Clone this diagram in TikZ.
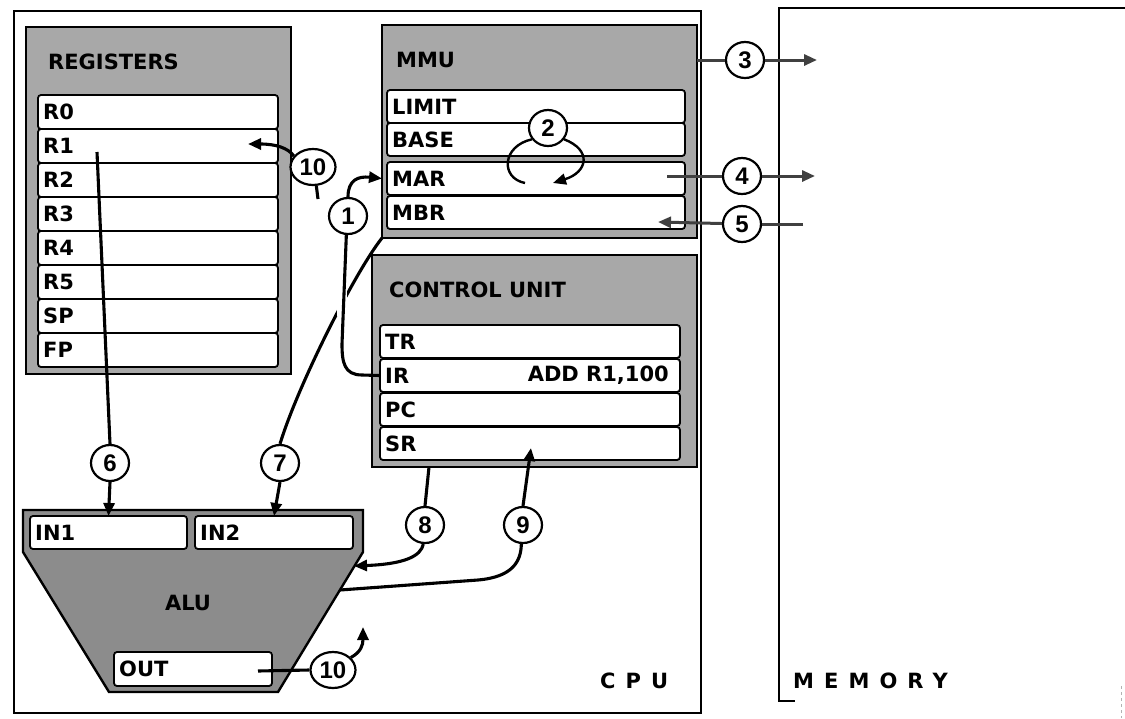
\documentclass[tikz,border=0pt]{standalone}
\usepackage{fontspec}
\setmainfont{DejaVu Sans}
\newfontfamily\numfam{Liberation Sans}
\newfontfamily\spacedfam{DejaVu Sans}[LetterSpace=48]
\usetikzlibrary{arrows.meta,shapes.geometric,calc}
\definecolor{panelgray}{gray}{0.66}
\definecolor{alugray}{gray}{0.55}
\newcommand{\myrowf}{\bfseries\fontsize{21}{24}\selectfont}
\newcommand{\myheadf}{\bfseries\fontsize{21}{24}\selectfont}
\newcommand{\mynumf}{\numfam\bfseries\fontsize{24}{26}\selectfont}
\newcommand{\mybigf}{\spacedfam\bfseries\fontsize{21}{24}\selectfont}
\begin{document}
\begin{tikzpicture}[x=1pt,y=-1pt,
  panel/.style={draw=black,line width=2.4pt,fill=panelgray,inner sep=0pt,outer sep=0pt,anchor=north west},
  cell/.style={draw=black,line width=1.8pt,fill=white,rounded corners=3pt,inner sep=0pt,outer sep=0pt,anchor=north west},
  lbl/.style={anchor=west,inner sep=0pt,font=\myrowf},
  head/.style={anchor=west,inner sep=0pt,font=\myheadf},
  num/.style={ellipse,draw=black,line width=2.2pt,fill=white,inner sep=0pt,minimum width=38pt,minimum height=36pt,font=\mynumf},
  wnum/.style={num,minimum width=45pt},
  wire/.style={line width=3.1pt,black},
  bus/.style={line width=3pt,black!75},
  tip/.style={-{Triangle[length=13pt,width=11pt]}},
  frame/.style={line width=2.2pt,black}
]
\useasboundingbox (0,0) rectangle (1125,718);
\fill[white] (0,0) rectangle (1125,718);

% outer frames
\draw[frame] (14,11) rectangle (701,713);
\draw[frame] (1125,8) -- (779,8) -- (779,701) -- (795,701);
\draw[gray!60,line width=0.8pt,dash pattern=on 3pt off 3pt] (1121,686) -- (1121,718);
\node[anchor=base west,inner sep=0pt,font=\mybigf] (cpulbl) at (600,688) {CPU};
\node[anchor=base west,inner sep=0pt,font=\mybigf] (memlbl) at (793,688) {MEMORY};

% registers
\node[panel,minimum width=265pt,minimum height=347pt] (regs) at (26,27) {};
\node[head] (regslbl) at (48,62) {REGISTERS};
\foreach \n [count=\i from 0] in {R0,R1,R2,R3,R4,R5,SP,FP} {
  \node[cell,minimum width=240pt,minimum height=34pt] (reg\n) at (38,{95+34*\i}) {};
  \node[lbl] at ([xshift=5pt]reg\n.west) {\n};
}

% MMU
\node[panel,minimum width=315pt,minimum height=213pt] (mmu) at (382,25) {};
\node[head] (mmulbl) at (396,60) {MMU};
\node[cell,minimum width=298pt,minimum height=33pt] (mLIMIT) at (387,90) {};
\node[cell,minimum width=298pt,minimum height=33pt] (mBASE) at (387,123) {};
\node[cell,minimum width=298pt,minimum height=33pt] (mMAR) at (387,162) {};
\node[cell,minimum width=298pt,minimum height=33pt] (mMBR) at (387,196) {};
\foreach \n in {LIMIT,BASE,MAR,MBR} {\node[lbl] at ([xshift=5pt]m\n.west) {\n};}

% control unit
\node[panel,minimum width=325pt,minimum height=212pt] (cu) at (372,255) {};
\node[head] (culbl) at (389,290) {CONTROL UNIT};
\node[cell,minimum width=300pt,minimum height=33pt] (cTR) at (380,325) {};
\node[cell,minimum width=300pt,minimum height=33pt] (cIR) at (380,359) {};
\node[cell,minimum width=300pt,minimum height=33pt] (cPC) at (380,393) {};
\node[cell,minimum width=300pt,minimum height=33pt] (cSR) at (380,427) {};
\foreach \n in {TR,IR,PC,SR} {\node[lbl] at ([xshift=5pt]c\n.west) {\n};}
\node[lbl,anchor=east] (irval) at ([xshift=-11pt]cIR.east) {ADD R1,100};

% ALU
\coordinate (aTL) at (23,510);
\coordinate (aTR) at (363,510);
\coordinate (aMR) at (363,552);
\coordinate (aBR) at (278,692);
\coordinate (aBL) at (109,692);
\coordinate (aML) at (23,552);
\draw[line width=2.4pt,fill=alugray] (aTL) -- (aTR) -- (aMR) -- (aBR) -- (aBL) -- (aML) -- cycle;
\node[cell,minimum width=157pt,minimum height=33pt] (in1) at (30,516) {};
\node[cell,minimum width=158pt,minimum height=33pt] (in2) at (195,516) {};
\node[cell,minimum width=158pt,minimum height=34pt] (out) at (114,652) {};
\node[lbl] at ([xshift=5pt]in1.west) {IN1};
\node[lbl] at ([xshift=5pt]in2.west) {IN2};
\node[lbl] at ([xshift=5pt]out.west) {OUT};
\node[inner sep=0pt,font=\myheadf] (alulbl) at (188,603) {ALU};

% numbered circles
\node[num] (c1) at (348,216) {1};
\node[num] (c2) at (548,128) {2};
\node[num] (c3) at (745,60) {3};
\node[num] (c4) at (742,176) {4};
\node[num] (c5) at (742,224) {5};
\node[num] (c6) at (110,463) {6};
\node[num] (c7) at (280,463) {7};
\node[num] (c8) at (425,525) {8};
\node[num] (c9) at (523,525) {9};
\node[wnum] (c10a) at (313,167) {10};
\node[wnum] (c10b) at (333,670) {10};

% free ends
\coordinate (m3) at (817,60);
\coordinate (mar4) at (667,176);
\coordinate (m4) at (815,176);
\coordinate (m5) at (803,224);
\coordinate (mbr5) at (658,222);
\coordinate (r1tap) at (97,152);
\coordinate (r1in) at (248,144);
\coordinate (stub10) at (318,199);
\coordinate (cu8) at (429,467);
\coordinate (alu8) at (354,566);
\coordinate (alu9) at (340,590);
\coordinate (sr9) at (531,448);
\coordinate (outtap) at (258,671);
\coordinate (up10) at (363,627);

% 2
\draw[wire,line width=2.4pt] (c2.215) .. controls (502,146) and (500,178) .. (525,183);
\draw[wire,line width=2.4pt,tip] (c2.-35) .. controls (592,150) and (588,172) .. (553,183);
% 3, 4, 5
\draw[bus] (mmu.east |- c3) -- (c3);
\draw[bus,tip] (c3) -- (m3);
\draw[bus] (mar4) -- (c4);
\draw[bus,tip] (c4) -- (m4);
\draw[bus] (m5) -- (c5);
\draw[bus,tip] (c5) -- (mbr5);
% 7 (broken where 1 crosses)
\draw[wire] (mmu.south west) .. controls (355,272) and (298,385) .. (c7.north);
\draw[wire,tip] (c7.south) -- (in2.north);
\draw[white,line width=10pt] (342,282) -- (342,316);
% 1
\draw[wire] (cIR.west) -- (362,375) .. controls (344,375) and (342,362) .. (342,344) -- (c1.265);
\draw[wire,tip] (c1.north) .. controls (348,180) and (358,176) .. (mmu.west |- mMAR.west);
% 6
\draw[wire] (r1tap) -- (c6.north);
\draw[wire,tip] (c6.south) -- (in1.north);
% 8
\draw[wire] (cu8) -- (c8.north);
\draw[wire,tip] (c8.265) .. controls (421,556) and (405,564) .. (alu8);
% 9
\draw[wire] (alu9) -- (478,580) .. controls (512,577) and (521,562) .. (c9.265);
\draw[wire,tip] (c9.north) -- (sr9);
% 10 (top)
\draw[wire,tip] (c10a.150) .. controls (288,148) and (276,144) .. (r1in);
\draw[wire] (c10a.280) -- (stub10);
% 10 (bottom)
\draw[wire] (outtap) -- (c10b.west);
\draw[wire,tip] (c10b.35) .. controls (361,652) and (363,645) .. (up10);
\end{tikzpicture}
\end{document}
